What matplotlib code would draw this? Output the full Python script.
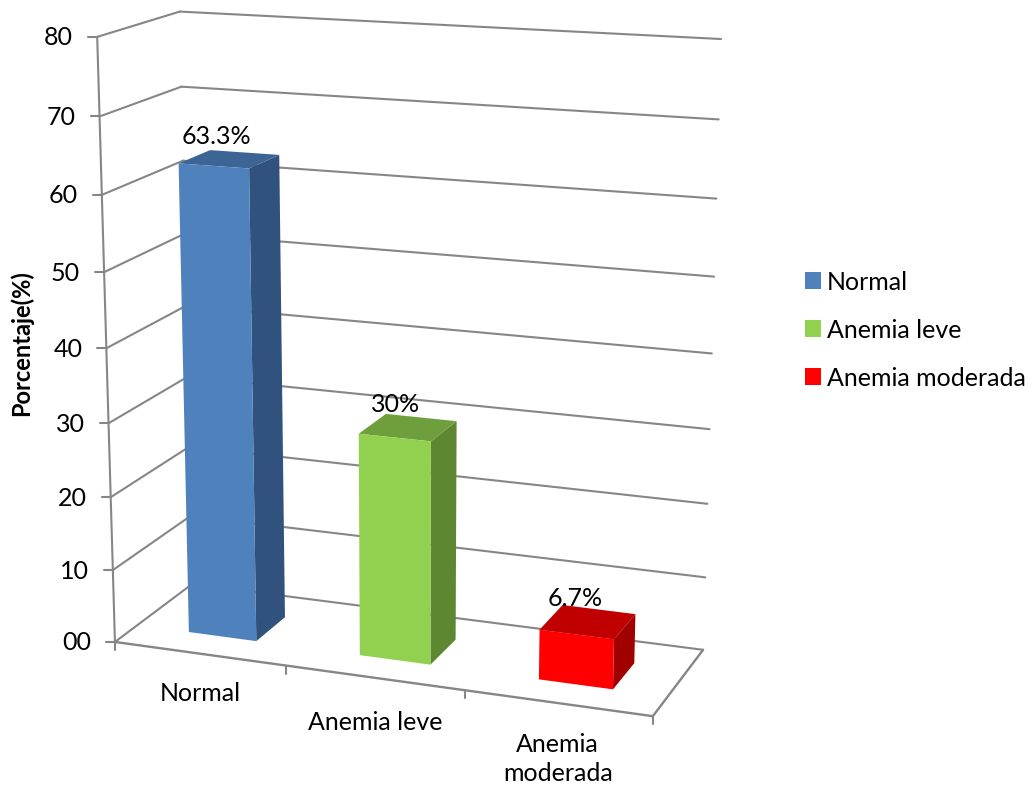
import numpy as np
import matplotlib
matplotlib.use('Agg')
import matplotlib.pyplot as plt
from matplotlib.patches import Polygon, Patch

categories = ['Normal', 'Anemia leve', 'Anemia\nmoderada']
values = [63.3, 30, 6.7]
value_labels = ['63.3%', '30%', '6.7%']
tick_values = [0, 10, 20, 30, 40, 50, 60, 70, 80]
tick_labels = ['00', '10', '20', '30', '40', '50', '60', '70', '80']
front_colors = ['#4F81BD', '#92D050', '#FF0000']
top_colors = ['#3C6494', '#6F9E3D', '#C00000']
side_colors = ['#30527D', '#5E8732', '#A00000']

GREY = '#868686'
plt.rcParams['font.family'] = ['Lato', 'DejaVu Sans']
FS = 18

# camera: (category, depth, value) -> pixel, solved from the corners of the box
box_3d = [(0, 0, 0), (3, 0, 0), (3, 1, 0), (0, 1, 0), (0, 0, 80), (0, 1, 80), (3, 1, 80)]
box_px = [(115, 642), (653, 716), (703, 650), (192, 584), (97, 37), (180, 11.5), (721, 39)]

rows, rhs = [], []
for (X, Y, Z), (u, v) in zip(box_3d, box_px):
    rows.append([X, Y, Z, 1, 0, 0, 0, 0, -u * X, -u * Y, -u * Z])
    rhs.append(u)
    rows.append([0, 0, 0, 0, X, Y, Z, 1, -v * X, -v * Y, -v * Z])
    rhs.append(v)
coef = np.linalg.lstsq(np.array(rows, float), np.array(rhs, float), rcond=None)[0]
P = np.append(coef, 1).reshape(3, 4)


def project(x, y, z):
    p = P @ np.array([x, y, z, 1.0])
    return p[0] / p[2], p[1] / p[2]


fig = plt.figure(figsize=(10.32, 7.87), dpi=100)
ax = fig.add_axes([0, 0, 1, 1])
ax.set_xlim(0, 1032)
ax.set_ylim(787, 0)
ax.axis('off')


def line(a, b, lw=1.5):
    ax.plot([a[0], b[0]], [a[1], b[1]], color=GREY, lw=lw, solid_capstyle='round', zorder=1)


# walls
for t, lab in zip(tick_values, tick_labels):
    front = project(0, 0, t)
    back = project(0, 1, t)
    right = project(3, 1, t)
    line(front, back)
    line(back, right)
    line((front[0] - 9, front[1]), front)
    ax.text(front[0] - 24, front[1] + 1, lab, ha='right', va='center', fontsize=FS, color='black')

# axes and floor
line(project(0, 0, 0), project(0, 0, 80))
line(project(0, 0, 0), project(3, 0, 0), lw=1.7)
line(project(3, 0, 0), project(3, 1, 0), lw=1.7)
for i in range(4):
    a = project(i, 0, 0)
    line(a, (a[0], a[1] + 8))

# bars
half_w = 0.2
y0, y1 = 0.28, 0.68
for i, val in enumerate(values):
    c = i + 0.51
    xa, xb = c - half_w, c + half_w
    # side, top, front faces
    ax.add_patch(Polygon([project(xb, y0, 0), project(xb, y1, 0), project(xb, y1, val), project(xb, y0, val)],
                         closed=True, fc=side_colors[i], ec='none', zorder=3))
    ax.add_patch(Polygon([project(xa, y0, val), project(xb, y0, val), project(xb, y1, val), project(xa, y1, val)],
                         closed=True, fc=top_colors[i], ec='none', zorder=3))
    ax.add_patch(Polygon([project(xa, y0, 0), project(xb, y0, 0), project(xb, y0, val), project(xa, y0, val)],
                         closed=True, fc=front_colors[i], ec='none', zorder=3))
    tx, ty = project(c, (y0 + y1) / 2, val)
    ax.text(tx - 13, ty - 23, value_labels[i], ha='center', va='center', fontsize=FS, color='black', zorder=5)

# category labels below the front edge
offsets = [(1, 40), (1, 45), (0, 56)]
for i, cat in enumerate(categories):
    bx, by = project(i + 0.5, 0, 0)
    ax.text(bx + offsets[i][0], by + offsets[i][1], cat, ha='center', va='center', fontsize=FS,
            linespacing=1.33, color='black')

ax.text(21, 343, 'Porcentaje(%)', rotation=90, ha='center', va='center', fontsize=17,
        fontweight='bold', color='black')

handles = [Patch(fc=c, ec='none', label=n) for c, n in zip(front_colors, ['Normal', 'Anemia leve', 'Anemia moderada'])]
ax.legend(handles=handles, loc='center left', bbox_to_anchor=(805, 330), bbox_transform=ax.transData,
          frameon=False, fontsize=FS, handlelength=0.64, handleheight=0.64, handletextpad=0.24,
          labelspacing=1.0, borderpad=0, borderaxespad=0)

fig.savefig('out.png', dpi=100)
